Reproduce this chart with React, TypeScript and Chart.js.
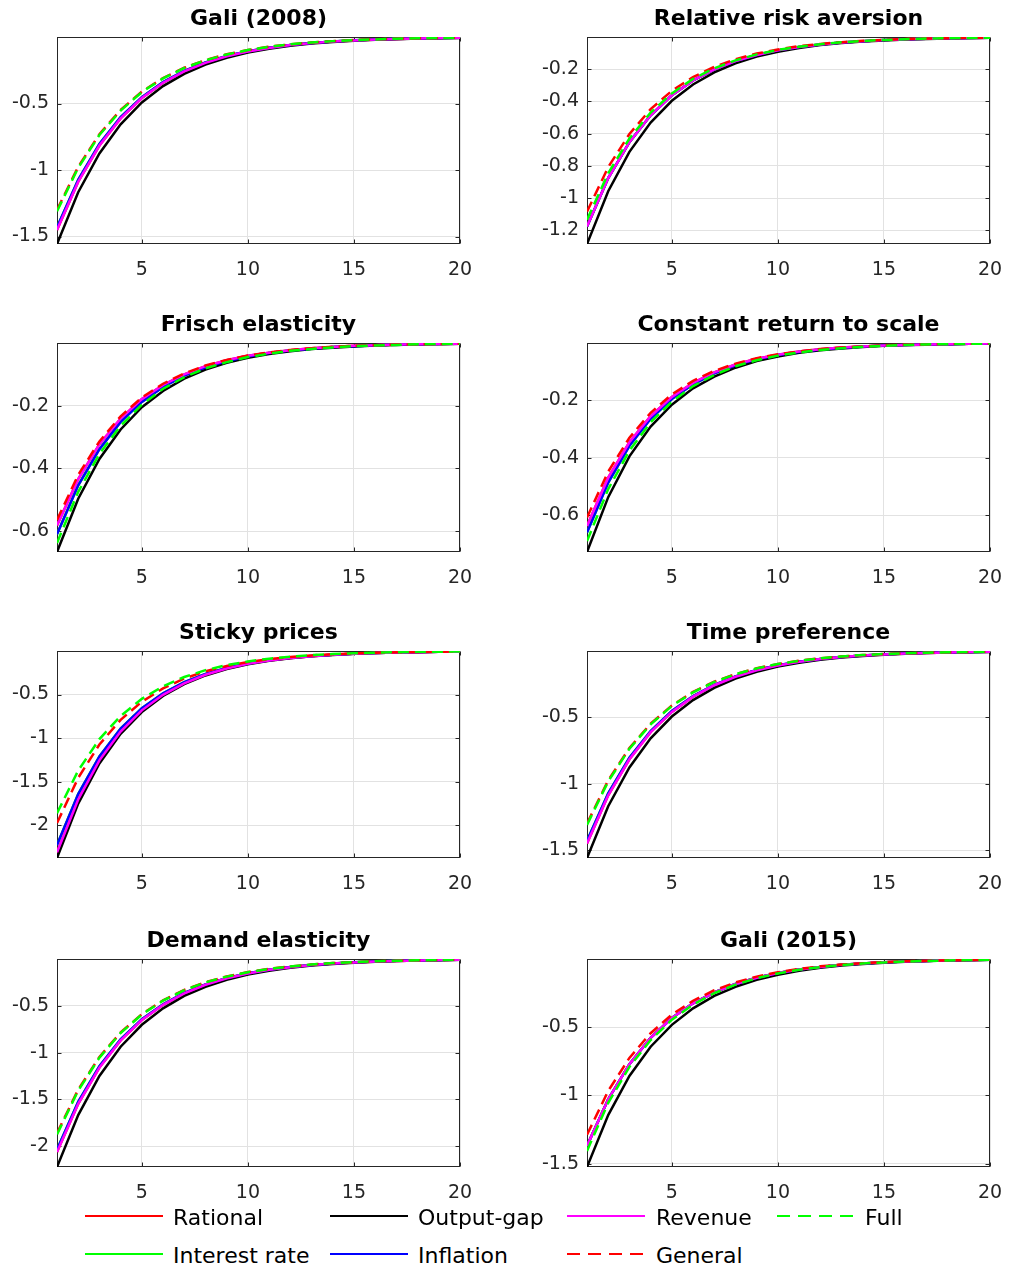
import React, { useEffect, useRef } from "react";
import { Chart, registerables } from "chart.js";

Chart.register(...registerables);

// ---------- data ----------
const periods = [1, 2, 3, 4, 5, 6, 7, 8, 9, 10, 11, 12, 13, 14, 15, 16, 17, 18, 19, 20];
const xTickValues = [5, 10, 15, 20];

const seriesNames = ["Rational", "Output-gap", "Revenue", "Full", "Interest rate", "Inflation", "General"];
const seriesKeys = ["rational", "output", "revenue", "full", "interest", "inflation", "general"];
const seriesColors = ["#ff0000", "#000000", "#ff00ff", "#00ff00", "#00ff00", "#0000ff", "#ff0000"];
const seriesDashed = [false, false, false, true, false, false, true];
// stacking rank, bottom (0) to top (6)
const seriesRank = [0, 2, 4, 6, 1, 3, 5];

// Gali (2008)
const g08Output = [-1.556, -1.167, -0.875, -0.656, -0.492, -0.369, -0.277, -0.208, -0.156, -0.117, -0.088, -0.066, -0.049, -0.037, -0.028, -0.021, -0.016, -0.012, -0.009, -0.007];
const g08Revenue = [-1.45, -1.088, -0.816, -0.612, -0.459, -0.344, -0.258, -0.194, -0.145, -0.109, -0.082, -0.061, -0.046, -0.034, -0.026, -0.019, -0.015, -0.011, -0.008, -0.006];
const g08Inflation = [-1.43, -1.073, -0.804, -0.603, -0.452, -0.339, -0.255, -0.191, -0.143, -0.107, -0.081, -0.060, -0.045, -0.034, -0.025, -0.019, -0.014, -0.011, -0.008, -0.006];
const g08Full = [-1.31, -0.983, -0.737, -0.553, -0.414, -0.311, -0.233, -0.175, -0.131, -0.098, -0.074, -0.055, -0.041, -0.031, -0.023, -0.018, -0.013, -0.010, -0.007, -0.006];
const g08General = [-1.30, -0.975, -0.731, -0.548, -0.411, -0.308, -0.231, -0.174, -0.130, -0.098, -0.073, -0.055, -0.041, -0.031, -0.023, -0.017, -0.013, -0.010, -0.007, -0.005];

// Relative risk aversion
const rraOutput = [-1.285, -0.957, -0.713, -0.531, -0.396, -0.295, -0.220, -0.164, -0.122, -0.091, -0.068, -0.050, -0.038, -0.028, -0.021, -0.016, -0.012, -0.009, -0.006, -0.005];
const rraRevenue = [-1.176, -0.876, -0.653, -0.486, -0.362, -0.270, -0.201, -0.150, -0.112, -0.083, -0.062, -0.046, -0.034, -0.026, -0.019, -0.014, -0.011, -0.008, -0.006, -0.004];
const rraFull = [-1.135, -0.846, -0.630, -0.469, -0.350, -0.260, -0.194, -0.145, -0.108, -0.080, -0.060, -0.045, -0.033, -0.025, -0.018, -0.014, -0.010, -0.008, -0.006, -0.004];
const rraGeneral = [-1.084, -0.808, -0.602, -0.448, -0.334, -0.249, -0.185, -0.138, -0.103, -0.077, -0.057, -0.043, -0.032, -0.024, -0.018, -0.013, -0.010, -0.007, -0.005, -0.004];

// Frisch elasticity
const frOutput = [-0.667, -0.497, -0.370, -0.276, -0.205, -0.153, -0.114, -0.085, -0.063, -0.047, -0.035, -0.026, -0.019, -0.015, -0.011, -0.008, -0.006, -0.004, -0.003, -0.002];
const frFull = [-0.638, -0.475, -0.354, -0.264, -0.197, -0.146, -0.109, -0.081, -0.061, -0.045, -0.034, -0.025, -0.019, -0.014, -0.010, -0.008, -0.006, -0.004, -0.003, -0.002];
const frInflation = [-0.61, -0.454, -0.339, -0.252, -0.188, -0.140, -0.104, -0.078, -0.058, -0.043, -0.032, -0.024, -0.018, -0.013, -0.010, -0.007, -0.005, -0.004, -0.003, -0.002];
const frRevenue = [-0.582, -0.434, -0.323, -0.241, -0.179, -0.134, -0.100, -0.074, -0.055, -0.041, -0.031, -0.023, -0.017, -0.013, -0.009, -0.007, -0.005, -0.004, -0.003, -0.002];
const frGeneral = [-0.565, -0.421, -0.314, -0.234, -0.174, -0.130, -0.097, -0.072, -0.054, -0.040, -0.030, -0.022, -0.017, -0.012, -0.009, -0.007, -0.005, -0.004, -0.003, -0.002];

// Constant return to scale
const crsOutput = [-0.728, -0.537, -0.395, -0.291, -0.215, -0.158, -0.117, -0.086, -0.063, -0.047, -0.034, -0.025, -0.019, -0.014, -0.010, -0.007, -0.006, -0.004, -0.003, -0.002];
const crsFull = [-0.69, -0.509, -0.375, -0.276, -0.204, -0.150, -0.111, -0.081, -0.060, -0.044, -0.033, -0.024, -0.018, -0.013, -0.010, -0.007, -0.005, -0.004, -0.003, -0.002];
const crsInflation = [-0.66, -0.486, -0.358, -0.264, -0.195, -0.144, -0.106, -0.078, -0.057, -0.042, -0.031, -0.023, -0.017, -0.012, -0.009, -0.007, -0.005, -0.004, -0.003, -0.002];
const crsRevenue = [-0.637, -0.469, -0.346, -0.255, -0.188, -0.139, -0.102, -0.075, -0.055, -0.041, -0.030, -0.022, -0.016, -0.012, -0.009, -0.007, -0.005, -0.004, -0.003, -0.002];
const crsGeneral = [-0.608, -0.448, -0.330, -0.243, -0.179, -0.132, -0.097, -0.072, -0.053, -0.039, -0.029, -0.021, -0.016, -0.012, -0.008, -0.006, -0.005, -0.003, -0.003, -0.002];

// Sticky prices
const spOutput = [-2.378, -1.753, -1.292, -0.952, -0.702, -0.517, -0.381, -0.281, -0.207, -0.153, -0.112, -0.083, -0.061, -0.045, -0.033, -0.024, -0.018, -0.013, -0.010, -0.007];
const spRevenue = [-2.313, -1.705, -1.256, -0.926, -0.682, -0.503, -0.371, -0.273, -0.201, -0.148, -0.109, -0.081, -0.059, -0.044, -0.032, -0.024, -0.018, -0.013, -0.010, -0.007];
const spInflation = [-2.229, -1.643, -1.211, -0.892, -0.658, -0.485, -0.357, -0.263, -0.194, -0.143, -0.105, -0.078, -0.057, -0.042, -0.031, -0.023, -0.017, -0.012, -0.009, -0.007];
const spGeneral = [-1.977, -1.457, -1.074, -0.791, -0.583, -0.430, -0.317, -0.233, -0.172, -0.127, -0.093, -0.069, -0.051, -0.037, -0.028, -0.020, -0.015, -0.011, -0.008, -0.006];
const spFull = [-1.863, -1.373, -1.012, -0.746, -0.550, -0.405, -0.299, -0.220, -0.162, -0.120, -0.088, -0.065, -0.048, -0.035, -0.026, -0.019, -0.014, -0.010, -0.008, -0.006];

// Time preference
const tpOutput = [-1.56, -1.17, -0.878, -0.658, -0.494, -0.370, -0.278, -0.208, -0.156, -0.117, -0.088, -0.066, -0.049, -0.037, -0.028, -0.021, -0.016, -0.012, -0.009, -0.007];
const tpRevenue = [-1.45, -1.088, -0.816, -0.612, -0.459, -0.344, -0.258, -0.194, -0.145, -0.109, -0.082, -0.061, -0.046, -0.034, -0.026, -0.019, -0.015, -0.011, -0.008, -0.006];
const tpInflation = [-1.43, -1.073, -0.804, -0.603, -0.452, -0.339, -0.255, -0.191, -0.143, -0.107, -0.081, -0.060, -0.045, -0.034, -0.025, -0.019, -0.014, -0.011, -0.008, -0.006];
const tpFull = [-1.31, -0.983, -0.737, -0.553, -0.414, -0.311, -0.233, -0.175, -0.131, -0.098, -0.074, -0.055, -0.041, -0.031, -0.023, -0.018, -0.013, -0.010, -0.007, -0.006];
const tpGeneral = [-1.30, -0.975, -0.731, -0.548, -0.411, -0.308, -0.231, -0.174, -0.130, -0.098, -0.073, -0.055, -0.041, -0.031, -0.023, -0.017, -0.013, -0.010, -0.007, -0.005];

// Demand elasticity
const deOutput = [-2.222, -1.667, -1.250, -0.937, -0.703, -0.527, -0.395, -0.297, -0.222, -0.167, -0.125, -0.094, -0.070, -0.053, -0.040, -0.030, -0.022, -0.017, -0.013, -0.009];
const deRevenue = [-2.062, -1.547, -1.160, -0.870, -0.652, -0.489, -0.367, -0.275, -0.206, -0.155, -0.116, -0.087, -0.065, -0.049, -0.037, -0.028, -0.021, -0.016, -0.012, -0.009];
const deInflation = [-2.036, -1.527, -1.145, -0.859, -0.644, -0.483, -0.362, -0.272, -0.204, -0.153, -0.115, -0.086, -0.064, -0.048, -0.036, -0.027, -0.020, -0.015, -0.011, -0.009];
const deFull = [-1.873, -1.405, -1.054, -0.790, -0.593, -0.444, -0.333, -0.250, -0.188, -0.141, -0.105, -0.079, -0.059, -0.044, -0.033, -0.025, -0.019, -0.014, -0.011, -0.008];
const deGeneral = [-1.86, -1.395, -1.046, -0.785, -0.589, -0.441, -0.331, -0.248, -0.186, -0.140, -0.105, -0.079, -0.059, -0.044, -0.033, -0.025, -0.019, -0.014, -0.010, -0.008];

// Gali (2015)
const g15Output = [-1.525, -1.144, -0.858, -0.643, -0.483, -0.362, -0.271, -0.204, -0.153, -0.115, -0.086, -0.064, -0.048, -0.036, -0.027, -0.020, -0.015, -0.011, -0.009, -0.006];
const g15Full = [-1.407, -1.055, -0.791, -0.594, -0.445, -0.334, -0.250, -0.188, -0.141, -0.106, -0.079, -0.059, -0.045, -0.033, -0.025, -0.019, -0.014, -0.011, -0.008, -0.006];
const g15Revenue = [-1.37, -1.028, -0.771, -0.578, -0.433, -0.325, -0.244, -0.183, -0.137, -0.103, -0.077, -0.058, -0.043, -0.033, -0.024, -0.018, -0.014, -0.010, -0.008, -0.006];
const g15General = [-1.289, -0.967, -0.725, -0.544, -0.408, -0.306, -0.229, -0.172, -0.129, -0.097, -0.073, -0.054, -0.041, -0.031, -0.023, -0.017, -0.013, -0.010, -0.007, -0.005];

const panels = [
  { title: "Gali (2008)", col: 0, row: 0, yMin: -1.556, yTicks: [-1.5, -1, -0.5],
    series: { rational: g08Revenue, output: g08Output, revenue: g08Revenue, full: g08Full, interest: g08Inflation, inflation: g08Inflation, general: g08General } },
  { title: "Relative risk aversion", col: 1, row: 0, yMin: -1.285, yTicks: [-1.2, -1, -0.8, -0.6, -0.4, -0.2],
    series: { rational: rraRevenue, output: rraOutput, revenue: rraRevenue, full: rraFull, interest: rraRevenue, inflation: rraRevenue, general: rraGeneral } },
  { title: "Frisch elasticity", col: 0, row: 1, yMin: -0.667, yTicks: [-0.6, -0.4, -0.2],
    series: { rational: frRevenue, output: frOutput, revenue: frRevenue, full: frFull, interest: frInflation, inflation: frInflation, general: frGeneral } },
  { title: "Constant return to scale", col: 1, row: 1, yMin: -0.728, yTicks: [-0.6, -0.4, -0.2],
    series: { rational: crsRevenue, output: crsOutput, revenue: crsRevenue, full: crsFull, interest: crsInflation, inflation: crsInflation, general: crsGeneral } },
  { title: "Sticky prices", col: 0, row: 2, yMin: -2.378, yTicks: [-2, -1.5, -1, -0.5],
    series: { rational: spRevenue, output: spOutput, revenue: spRevenue, full: spFull, interest: spInflation, inflation: spInflation, general: spGeneral } },
  { title: "Time preference", col: 1, row: 2, yMin: -1.56, yTicks: [-1.5, -1, -0.5],
    series: { rational: tpRevenue, output: tpOutput, revenue: tpRevenue, full: tpFull, interest: tpInflation, inflation: tpInflation, general: tpGeneral } },
  { title: "Demand elasticity", col: 0, row: 3, yMin: -2.222, yTicks: [-2, -1.5, -1, -0.5],
    series: { rational: deRevenue, output: deOutput, revenue: deRevenue, full: deFull, interest: deInflation, inflation: deInflation, general: deGeneral } },
  { title: "Gali (2015)", col: 1, row: 3, yMin: -1.525, yTicks: [-1.5, -1, -0.5],
    series: { rational: g15Revenue, output: g15Output, revenue: g15Revenue, full: g15Full, interest: g15Revenue, inflation: g15Revenue, general: g15General } },
];

// ---------- layout ----------
const columns = [
  { left: 0, width: 500, yWidth: 57, padRight: 40 },
  { left: 510, width: 499, yWidth: 77, padRight: 19 },
];
const rows = [
  { top: 0, plotH: 207 },
  { top: 306, plotH: 209 },
  { top: 614, plotH: 207 },
  { top: 922, plotH: 208 },
];
const TITLE_H = 37;
const XAXIS_H = 40;
const FONT = "'DejaVu Sans', 'Liberation Sans', Arial, sans-serif";
const AXIS_COLOR = "#262626";
const GRID_COLOR = "#e2e2e2";

const framePlugin = {
  id: "matlabFrame",
  beforeDatasetsDraw(chart: any) {
    const { ctx, chartArea, scales } = chart;
    const l = Math.round(chartArea.left) + 0.5;
    const r = Math.round(chartArea.right) - 0.5;
    const t = Math.round(chartArea.top) + 0.5;
    const b = Math.round(chartArea.bottom) - 0.5;
    ctx.save();
    ctx.strokeStyle = AXIS_COLOR;
    ctx.lineWidth = 1;
    ctx.beginPath();
    scales.x.ticks.forEach((tk: any) => {
      const p = Math.round(scales.x.getPixelForValue(tk.value)) + 0.5;
      ctx.moveTo(p, b);
      ctx.lineTo(p, b - 4);
      ctx.moveTo(p, t);
      ctx.lineTo(p, t + 4);
    });
    scales.y.ticks.forEach((tk: any) => {
      const p = Math.round(scales.y.getPixelForValue(tk.value)) + 0.5;
      ctx.moveTo(l, p);
      ctx.lineTo(l + 4, p);
      ctx.moveTo(r, p);
      ctx.lineTo(r - 4, p);
    });
    ctx.stroke();
    ctx.strokeRect(l, t, r - l, b - t);
    ctx.restore();
  },
};

function Panel({ cfg }: { cfg: any }) {
  const ref = useRef<HTMLCanvasElement | null>(null);
  const col = columns[cfg.col];
  const row = rows[cfg.row];
  const height = TITLE_H + row.plotH + XAXIS_H;

  useEffect(() => {
    if (!ref.current) return;
    const datasets = seriesKeys.map((key, i) => ({
      label: seriesNames[i],
      data: periods.map((x, j) => ({ x, y: cfg.series[key][j] })),
      borderColor: seriesColors[i],
      backgroundColor: seriesColors[i],
      borderWidth: 2.5,
      borderDash: seriesDashed[i] ? [11, 6] : [],
      pointRadius: 0,
      pointHoverRadius: 0,
      fill: false,
      tension: 0,
      order: 6 - seriesRank[i],
    }));
    const chart = new Chart(ref.current, {
      type: "line",
      data: { datasets },
      options: {
        responsive: false,
        animation: false,
        devicePixelRatio: 1,
        layout: { padding: { left: 0, top: 0, right: col.padRight, bottom: 0 } },
        plugins: {
          legend: { display: false },
          tooltip: { enabled: false },
          title: {
            display: true,
            text: cfg.title,
            fullSize: false,
            color: "#000000",
            font: { family: FONT, size: 22, weight: "bold", lineHeight: 1.2 },
            padding: { top: 6, bottom: 4.6 },
          },
        },
        scales: {
          x: {
            type: "linear",
            min: 1,
            max: 20,
            afterBuildTicks: (scale: any) => {
              scale.ticks = xTickValues.map((v) => ({ value: v }));
            },
            afterFit: (scale: any) => {
              scale.height = XAXIS_H;
              scale.paddingLeft = 0;
              scale.paddingRight = 0;
            },
            ticks: {
              autoSkip: false,
              maxRotation: 0,
              padding: 15,
              color: AXIS_COLOR,
              font: { family: FONT, size: 19 },
              callback: (v: any) => String(Number(v)),
            },
            grid: { color: GRID_COLOR, drawTicks: false, lineWidth: 1 },
            border: { display: false },
          },
          y: {
            type: "linear",
            min: cfg.yMin,
            max: 0,
            afterBuildTicks: (scale: any) => {
              scale.ticks = cfg.yTicks.map((v: number) => ({ value: v }));
            },
            afterFit: (scale: any) => {
              scale.width = col.yWidth;
              scale.paddingTop = 0;
              scale.paddingBottom = 0;
            },
            ticks: {
              autoSkip: false,
              padding: 8,
              color: AXIS_COLOR,
              font: { family: FONT, size: 19 },
              callback: (v: any) => String(Number(v)),
            },
            grid: { color: GRID_COLOR, drawTicks: false, lineWidth: 1 },
            border: { display: false },
          },
        },
      } as any,
      plugins: [framePlugin],
    });
    return () => chart.destroy();
  }, []);

  return (
    <canvas
      ref={ref}
      width={col.width}
      height={height}
      style={{ position: "absolute", left: col.left, top: row.top, width: col.width, height }}
    />
  );
}

const legendItems = [
  { name: "Rational", color: "#ff0000", dashed: false, lineX: 85, textX: 173, y: 1216 },
  { name: "Output-gap", color: "#000000", dashed: false, lineX: 330, textX: 418, y: 1216 },
  { name: "Revenue", color: "#ff00ff", dashed: false, lineX: 567, textX: 656, y: 1216 },
  { name: "Full", color: "#00ff00", dashed: true, lineX: 777, textX: 865, y: 1216 },
  { name: "Interest rate", color: "#00ff00", dashed: false, lineX: 85, textX: 173, y: 1254 },
  { name: "Inflation", color: "#0000ff", dashed: false, lineX: 330, textX: 418, y: 1254 },
  { name: "General", color: "#ff0000", dashed: true, lineX: 567, textX: 656, y: 1254 },
];

export default function App() {
  return (
    <div style={{ position: "absolute", left: 0, top: 0, width: 1009, height: 1272, background: "#ffffff", overflow: "hidden" }}>
      {panels.map((p) => (
        <Panel key={p.title} cfg={p} />
      ))}
      {legendItems.map((it) => (
        <React.Fragment key={it.name}>
          <svg
            width={78}
            height={6}
            style={{ position: "absolute", left: it.lineX, top: it.y - 3 }}
          >
            <line
              x1={0}
              y1={3}
              x2={78}
              y2={3}
              stroke={it.color}
              strokeWidth={2}
              strokeDasharray={it.dashed ? "13 8" : undefined}
            />
          </svg>
          <span
            style={{
              position: "absolute",
              left: it.textX,
              top: it.y - 12,
              height: 28,
              lineHeight: "28px",
              fontFamily: FONT,
              fontSize: 22,
              color: "#000000",
              whiteSpace: "nowrap",
            }}
          >
            {it.name}
          </span>
        </React.Fragment>
      ))}
    </div>
  );
}
